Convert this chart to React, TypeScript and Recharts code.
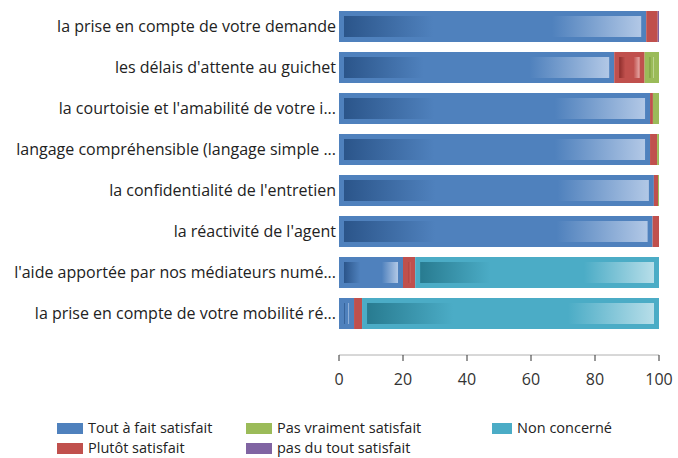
import * as React from "react";
import { BarChart, Bar, XAxis, YAxis } from "recharts";

const categories = [
  "la prise en compte de votre demande",
  "les délais d'attente au guichet",
  "la courtoisie et l'amabilité de votre i...",
  "langage compréhensible (langage simple ...",
  "la confidentialité de l'entretien",
  "la réactivité de l'agent",
  "l'aide apportée par nos médiateurs numé...",
  "la prise en compte de votre mobilité ré...",
];

const toutAFait = [96, 86, 97.2, 97.2, 98.4, 98, 20, 4.7];
const plutot = [3.6, 9.5, 0.9, 2.2, 1.3, 2, 3.8, 2.5];
const pasVraiment = [0, 4.5, 1.9, 0.6, 0.3, 0, 0, 0];
const pasDuTout = [0.4, 0, 0, 0, 0, 0, 0, 0];
const nonConcerne = [0, 0, 0, 0, 0, 0, 76.2, 92.8];

const xTicks = [0, 20, 40, 60, 80, 100];

const data = categories.map((name, i) => ({
  name,
  toutAFait: toutAFait[i],
  plutot: plutot[i],
  pasVraiment: pasVraiment[i],
  pasDuTout: pasDuTout[i],
  nonConcerne: nonConcerne[i],
}));

// office-style palette, dark / base / light for the inner gradient
const series = [
  { key: "toutAFait", name: "Tout à fait satisfait", base: "#4F81BD", dark: "#2B558A", light: "#B2C8E6" },
  { key: "plutot", name: "Plutôt satisfait", base: "#C0504D", dark: "#8E2E2C", light: "#E7A9A7" },
  { key: "pasVraiment", name: "Pas vraiment satisfait", base: "#9BBB59", dark: "#6E8C35", light: "#D3E3B1" },
  { key: "pasDuTout", name: "pas du tout satisfait", base: "#8064A2", dark: "#573F77", light: "#C4B5D8" },
  { key: "nonConcerne", name: "Non concerné", base: "#4BACC6", dark: "#287B90", light: "#B7DEE9" },
];

const legendOrder = ["toutAFait", "pasVraiment", "nonConcerne", "plutot", "pasDuTout"];

const font = "'Open Sans', sans-serif";

function makeShape(key: string, base: string) {
  return (props: any) => {
    const { x, y, width, height } = props;
    if (!width || width <= 0) return <g />;
    const inset = 5;
    const showInner = width > inset * 2 + 2;
    return (
      <g>
        <rect x={x} y={y} width={width} height={height} fill={base} />
        {showInner && (
          <rect
            x={x + inset}
            y={y + inset}
            width={width - inset * 2}
            height={height - inset * 2}
            fill={`url(#grad-${key})`}
          />
        )}
      </g>
    );
  };
}

export default function App() {
  return (
    <div style={{ position: "absolute", left: 0, top: 0, width: 678, height: 458, background: "#fff" }}>
      <BarChart
        width={678}
        height={395}
        data={data}
        layout="vertical"
        margin={{ top: 6, right: 19, left: 0, bottom: 10 }}
        barSize={31}
      >
        <defs>
          {series.map((s) => (
            <linearGradient key={s.key} id={`grad-${s.key}`} x1="0" y1="0" x2="1" y2="0">
              <stop offset="0%" stopColor={s.dark} />
              <stop offset="30%" stopColor={s.base} />
              <stop offset="70%" stopColor={s.base} />
              <stop offset="100%" stopColor={s.light} />
            </linearGradient>
          ))}
        </defs>
        <XAxis
          type="number"
          domain={[0, 100]}
          ticks={xTicks}
          axisLine={{ stroke: "#b0b0b0" }}
          tickLine={{ stroke: "#333" }}
          tickSize={6}
          tickMargin={13}
          tick={{ fill: "#333", fontSize: 16, fontFamily: font }}
          height={30}
        />
        <YAxis
          type="category"
          dataKey="name"
          width={339}
          axisLine={false}
          tickLine={false}
          tickSize={0}
          tickMargin={3}
          padding={{ top: 0, bottom: 21 }}
          tick={{ fill: "#222", fontSize: 16, fontFamily: font }}
          interval={0}
        />
        {series.map((s) => (
          <Bar
            key={s.key}
            dataKey={s.key}
            name={s.name}
            stackId="a"
            fill={s.base}
            shape={makeShape(s.key, s.base)}
            isAnimationActive={false}
          />
        ))}
      </BarChart>
      <div
        style={{
          position: "absolute",
          left: 57,
          top: 418,
          display: "grid",
          gridTemplateColumns: "189px 246px 120px",
          fontFamily: font,
          fontSize: 14.5,
          lineHeight: "20px",
          color: "#222",
        }}
      >
        {legendOrder.map((k) => {
          const s = series.find((x) => x.key === k)!;
          return (
            <div key={k} style={{ display: "flex", alignItems: "center", height: 20, whiteSpace: "nowrap" }}>
              <span style={{ display: "inline-block", width: 26, height: 11, background: s.base, marginRight: 5 }} />
              <span>{s.name}</span>
            </div>
          );
        })}
      </div>
    </div>
  );
}
